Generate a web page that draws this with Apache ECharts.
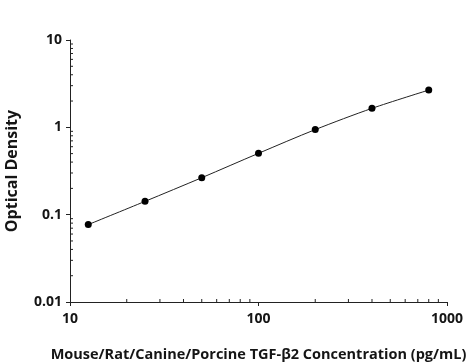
<!DOCTYPE html>
<html><head><meta charset="utf-8">
<script src="https://cdn.jsdelivr.net/npm/echarts@6/dist/echarts.min.js"></script>
<style>html,body{margin:0;padding:0;background:#fff}#c{width:474px;height:362px}</style>
</head><body><div id="c"></div>
<script>
const concentrations = [12.5, 25, 50, 100, 200, 400, 800];
const opticalDensity = [0.077, 0.142, 0.265, 0.504, 0.942, 1.65, 2.67];
const xMinorTicks = [20,30,40,50,60,70,80,90,200,300,400,500,600,700,800,900];
const yMinorTicks = [0.02,0.03,0.04,0.05,0.06,0.07,0.08,0.09,0.2,0.3,0.4,0.5,0.6,0.7,0.8,0.9,2,3,4,5,6,7,8,9];
const xTickLabels = {10: '10', 100: '100', 1000: '1000'};
const yTickLabels = {0.01: '0.01', 0.1: '0.1', 1: '1', 10: '10'};

const font = '"Open Sans", sans-serif';
const chart = echarts.init(document.getElementById('c'));
const minorTickData = xMinorTicks.map(v => ['x', v]).concat(yMinorTicks.map(v => ['y', v]));
function lbl(map, v) {
  for (const k in map) { if (Math.abs(Math.log10(+k) - Math.log10(v)) < 1e-6) return map[k]; }
  return '';
}
chart.setOption({
  animation: false,
  grid: { left: 70, right: 27, top: 40, bottom: 60, containLabel: false, outerBoundsMode: 'none' },
  xAxis: {
    type: 'log', logBase: 10, min: 10, max: 1000,
    name: 'Mouse/Rat/Canine/Porcine TGF-β2 Concentration (pg/mL)',
    nameLocation: 'middle', nameGap: 45,
    nameTextStyle: { fontFamily: font, fontWeight: 'bold', fontSize: 14.5, color: '#151515' },
    axisLine: { lineStyle: { color: '#222', width: 1 } },
    axisTick: { length: 4, lineStyle: { color: '#222' } },
    axisLabel: { fontFamily: font, fontWeight: 'bold', fontSize: 14, color: '#151515', margin: 10,
      formatter: v => lbl(xTickLabels, v) },
    splitLine: { show: false }
  },
  yAxis: {
    type: 'log', logBase: 10, min: 0.01, max: 10,
    name: 'Optical Density',
    nameLocation: 'middle', nameGap: 50,
    nameTextStyle: { fontFamily: font, fontWeight: 'bold', fontSize: 16, color: '#151515' },
    axisLine: { show: true, lineStyle: { color: '#222', width: 1 } },
    axisTick: { show: true, length: 4, lineStyle: { color: '#222' } },
    axisLabel: { fontFamily: font, fontWeight: 'bold', fontSize: 14, color: '#151515', margin: 8,
      formatter: v => lbl(yTickLabels, v) },
    splitLine: { show: false }
  },
  series: [
    {
      type: 'line',
      data: concentrations.map((c, i) => [c, opticalDensity[i]]),
      smooth: 0.3,
      symbol: 'circle', symbolSize: 7,
      lineStyle: { color: '#222', width: 1 },
      itemStyle: { color: '#000' }
    },
    {
      type: 'custom',
      silent: true,
      clip: false,
      data: minorTickData,
      renderItem: function (params, api) {
        const d = minorTickData[params.dataIndex];
        if (d[0] === 'x') {
          const p = api.coord([d[1], 0.01]);
          return { type: 'line', shape: { x1: p[0], y1: p[1], x2: p[0], y2: p[1] - 3 }, style: { stroke: '#222', lineWidth: 1 } };
        } else {
          const p = api.coord([10, d[1]]);
          return { type: 'line', shape: { x1: p[0], y1: p[1], x2: p[0] + 3, y2: p[1] }, style: { stroke: '#222', lineWidth: 1 } };
        }
      }
    }
  ]
});
</script></body></html>
